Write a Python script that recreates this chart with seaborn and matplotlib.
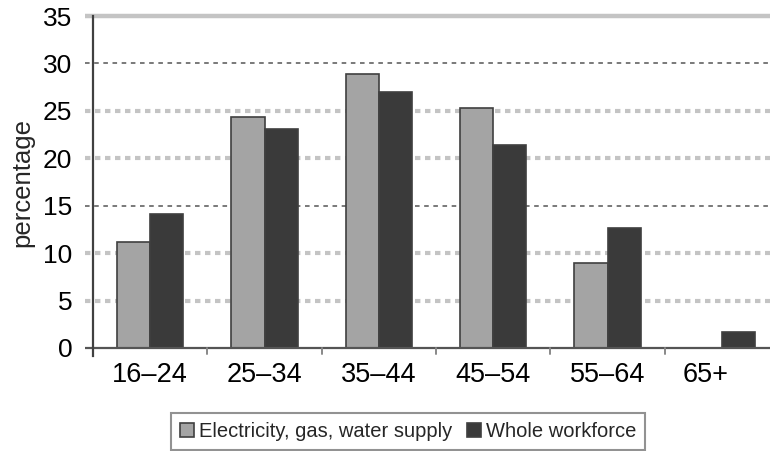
import matplotlib
matplotlib.use("Agg")
import matplotlib.pyplot as plt
import matplotlib.transforms as mtransforms
import seaborn as sns
import pandas as pd

age_groups = ["16–24", "25–34", "35–44", "45–54", "55–64", "65+"]
electricity = [11.2, 24.4, 28.9, 25.3, 9.0, 0.0]
workforce = [14.1, 23.1, 27.0, 21.4, 12.6, 1.7]
series_names = ["Electricity, gas, water supply", "Whole workforce"]

df = pd.DataFrame({
    "age": age_groups * 2,
    "value": electricity + workforce,
    "series": [series_names[0]] * len(age_groups) + [series_names[1]] * len(age_groups),
})

sns.set_style("white")
plt.rcParams["font.family"] = ["Liberation Sans", "DejaVu Sans"]

fig = plt.figure(figsize=(7.7, 4.51), dpi=100)
ax = fig.add_axes([0.1208, 0.2284, 0.8792, 0.7361])

colors = {series_names[0]: "#a4a4a4", series_names[1]: "#3a3a3a"}
sns.barplot(data=df, x="age", y="value", hue="series", palette=colors,
            width=0.58, edgecolor="#404040", linewidth=1.2, saturation=1,
            legend=True, ax=ax, zorder=3)

ax.set_xlim(-0.5, 5.42)
ax.set_ylim(0, 35)
ax.set_yticks(range(0, 36, 5))
ax.set_xlabel("")
ax.set_ylabel("percentage", fontsize=18.5, labelpad=6)

# gridlines: fine dark dashes at 15 and 30, heavy light dots elsewhere
for v in [5, 10, 20, 25]:
    ax.plot([-0.57, 5.42], [v, v], color="#c4c4c4", lw=3, ls=(0, (1.3, 1.1)),
            zorder=1, clip_on=False)
for v in [15, 30]:
    ax.plot([-0.57, 5.42], [v, v], color="#555555", lw=1.1, ls=(0, (3, 3)),
            zorder=1, clip_on=False)
ax.plot([-0.57, 5.42], [35, 35], color="#c4c4c4", lw=3.2, zorder=1,
        clip_on=False, solid_capstyle="butt")
ax.plot([-0.57, 5.42], [0, 0], color="#555555", lw=1.6, zorder=4,
        clip_on=False, solid_capstyle="butt")

for s in ["top", "right", "bottom"]:
    ax.spines[s].set_visible(False)
ax.spines["left"].set_color("#404040")
ax.spines["left"].set_linewidth(1.6)
ax.spines["left"].set_zorder(5)
ax.spines["left"].set_bounds(-0.8, 35)
ax.spines["left"].set_position(("data", -0.5))

ax.tick_params(axis="y", length=0, labelsize=19, pad=15, colors="black")
ax.tick_params(axis="x", length=0, labelsize=19.5, pad=10, colors="black")

# the last category label sits a little left of its group
last = ax.get_xticklabels()[-1]
last.set_transform(last.get_transform() +
                   mtransforms.ScaledTranslation(-0.16, 0, fig.dpi_scale_trans))

# small ticks between the age groups
for b in [0.5, 1.5, 2.5, 3.5, 4.5]:
    ax.plot([b, b], [0, -0.6], color="#888888", lw=1.4, clip_on=False, zorder=4)

handles, labels = ax.get_legend_handles_labels()
ax.get_legend().remove()
leg = fig.legend(handles, labels, loc="center", bbox_to_anchor=(0.53, 0.043),
                 ncol=2, fontsize=14.5, frameon=True, fancybox=False,
                 handlelength=0.7, handleheight=0.7, handletextpad=0.25,
                 columnspacing=0.7, borderpad=0.45, borderaxespad=0)
leg.get_frame().set_edgecolor("#777777")
leg.get_frame().set_linewidth(1.5)

fig.savefig("out.png", dpi=100)
